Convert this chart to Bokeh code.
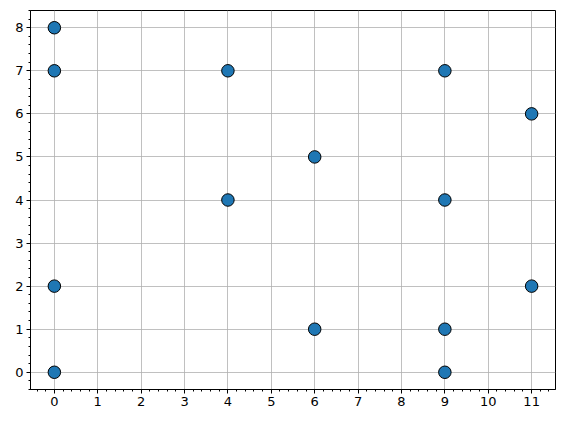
from bokeh.plotting import figure
from bokeh.models import SingleIntervalTicker, Range1d
from bokeh.embed import file_html
from bokeh.resources import INLINE

xs = [0, 0, 0, 0, 4, 4, 6, 6, 9, 9, 9, 9, 11, 11]
ys = [8, 7, 2, 0, 7, 4, 5, 1, 7, 4, 1, 0, 6, 2]

p = figure(width=565, height=422, output_backend="svg", toolbar_location=None,
           x_range=Range1d(-0.55, 11.55), y_range=Range1d(-0.4, 8.4),
           min_border_left=30, min_border_right=10, min_border_top=10, min_border_bottom=33)
p.background_fill_color = "white"
p.border_fill_color = "white"
p.outline_line_color = "black"
p.outline_line_width = 1
p.outline_line_alpha = 1

for ax in (p.xaxis[0], p.yaxis[0]):
    ax.ticker = SingleIntervalTicker(interval=1, num_minor_ticks=5)
    ax.axis_line_color = "black"
    ax.major_tick_in = 0
    ax.major_tick_out = 4
    ax.minor_tick_in = 0
    ax.minor_tick_out = 2
    ax.major_tick_line_color = "black"
    ax.minor_tick_line_color = "black"
    ax.major_label_text_font = "DejaVu Sans"
    ax.major_label_text_font_size = "13px"
    ax.major_label_text_color = "black"
    ax.major_label_standoff = 3

p.xgrid.ticker = p.xaxis[0].ticker
p.ygrid.ticker = p.yaxis[0].ticker
p.grid.grid_line_color = "#b0b0b0"
p.grid.grid_line_width = 0.8

p.scatter(xs, ys, size=12.5, fill_color="#1f77b4", line_color="black", line_width=1)

open("out.html", "w").write(file_html(p, INLINE))
